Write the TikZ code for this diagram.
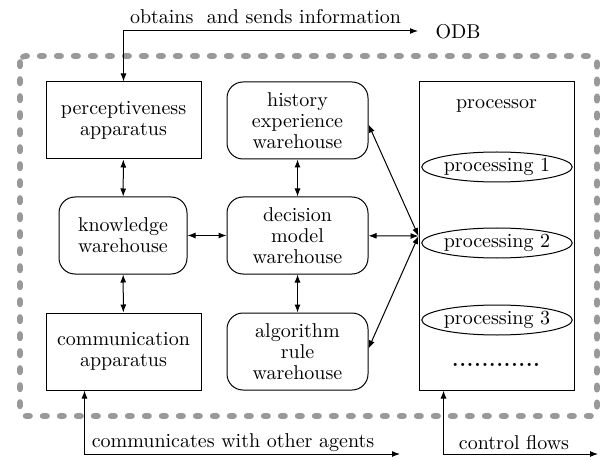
\documentclass[tikz,border=0pt]{standalone}
\usepackage{fontspec}
\usetikzlibrary{arrows.meta,shapes.geometric}
\newcommand\dotrow{\bfseries .\kern0.5pt.\kern0.5pt.\kern0.5pt.\kern0.5pt.\kern0.5pt.\kern0.5pt.\kern0.5pt.\kern0.5pt.\kern0.5pt.\kern0.5pt.\kern0.5pt.}
\begin{document}
\begin{tikzpicture}[x=0.5pt,y=-0.5pt,
  every node/.style={font=\rmfamily\fontsize{10}{10.5}\selectfont, align=center, inner sep=0pt},
  sqbox/.style={draw, line width=0.5pt, minimum width=77.5pt, minimum height=38.5pt},
  rbox/.style={draw, line width=0.5pt, rounded corners=8pt, minimum height=38.5pt},
  ell/.style={draw, ellipse, line width=0.5pt, minimum width=65pt, minimum height=15pt},
  conn/.style={line width=0.5pt, {Latex[length=4pt,width=3pt]}-{Latex[length=4pt,width=3pt]}},
  dashbox/.style={line width=2.8pt, black!40, line cap=round, dash pattern=on 2.2pt off 6.3pt, rounded corners=3pt}]
\useasboundingbox (0,0) rectangle (603,459);

% dashed agent border
\draw[dashbox] (20,56) rectangle (597,416);

% left column
\node[sqbox] (perc) at (123.5,120.5) {perceptiveness\\apparatus};
\node[rbox, minimum width=64pt] (know) at (123,235.5) {knowledge\\warehouse};
\node[sqbox] (comm) at (123.5,351.5) {communication\\apparatus};

% middle column
\node[rbox, minimum width=70.5pt] (hist) at (297.5,120.5) {history\\experience\\warehouse};
\node[rbox, minimum width=70.5pt] (dec) at (297.5,235.5) {decision\\model\\warehouse};
\node[rbox, minimum width=70.5pt] (alg) at (297.5,351.5) {algorithm\\rule\\warehouse};

% processor
\node[draw, line width=0.5pt, minimum width=77.5pt, minimum height=154pt] (proc) at (496.5,236) {};
\node (proctitle) at (496.5,106) {processor};
\node[ell] (p1) at (497,167) {processing 1};
\node[ell] (p2) at (497,243) {processing 2};
\node[ell] (p3) at (497,320) {processing 3};
\node (dots) at (496,365) {\dotrow};

% external labels
\node (toplabel) at (265.5,17) {obtains\ \ and sends information};
\node (odb) at (458,32) {ODB};
\coordinate (odbend) at (418,31);
\node (commlabel) at (233,443) {communicates with other agents};
\coordinate (commend) at (400,454);
\node (ctrllabel) at (514,443) {control flows};
\coordinate (ctrlend) at (598,454);

% connectors
\draw[conn] (perc.north) |- (odbend);
\draw[conn] ([xshift=19.5pt]comm.south west) |- (commend);
\draw[conn] ([xshift=12.5pt]proc.south west) |- (ctrlend);
\draw[conn] (perc) -- (know);
\draw[conn] (know) -- (comm);
\draw[conn] (hist) -- (dec);
\draw[conn] (dec) -- (alg);
\draw[conn] (know) -- (dec);
\draw[conn] (dec) -- (proc.west);
\draw[conn] ([yshift=-2pt]hist.east) -- (proc.west);
\draw[conn] ([yshift=1.5pt]alg.east) -- (proc.west);
\end{tikzpicture}
\end{document}
